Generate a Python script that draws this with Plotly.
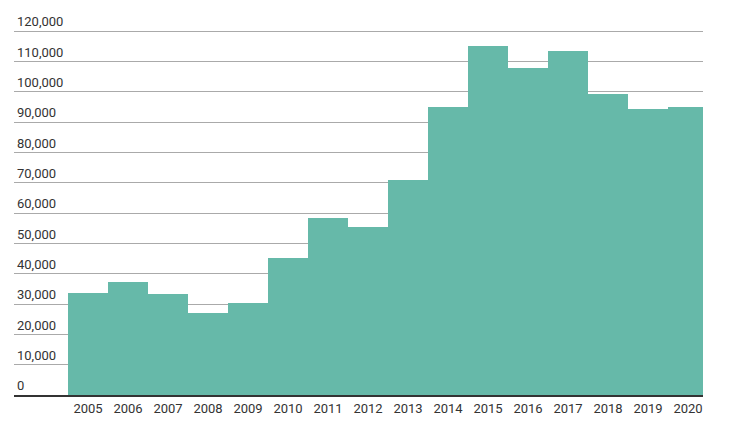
import plotly.graph_objects as go

years = [2005, 2006, 2007, 2008, 2009, 2010, 2011, 2012, 2013, 2014, 2015, 2016, 2017, 2018, 2019, 2020]
values = [33600, 37200, 33300, 27000, 30300, 45200, 58400, 55400, 70900, 95000, 115100, 107800, 113400, 99200, 94300, 95000]
year_labels = [str(y) for y in years]
y_ticks = [0, 10000, 20000, 30000, 40000, 50000, 60000, 70000, 80000, 90000, 100000, 110000, 120000]

fig = go.Figure(go.Bar(
    x=years, y=values,
    marker=dict(color="#66b9a9", line=dict(width=0)),
    hoverinfo="skip",
))

# page body has an 8px margin, so the figure is sized/offset to compensate
fig.update_layout(
    width=742, height=423,
    margin=dict(l=6, r=47, t=2, b=36),
    paper_bgcolor="white", plot_bgcolor="white",
    bargap=0,
    showlegend=False,
    font=dict(family="Roboto", size=13, color="#333333"),
    xaxis=dict(
        range=[2003.15, 2020.375],
        tickvals=years, ticktext=year_labels,
        showgrid=False, zeroline=False,
        showline=True, linecolor="#333333", linewidth=2,
        ticks="", ticklen=0,
        tickfont=dict(family="Roboto", size=13, color="#333333"),
        fixedrange=True,
    ),
    yaxis=dict(
        range=[0, 126935],
        tickvals=y_ticks,
        tickformat=",d",
        ticklabelposition="inside top",
        showgrid=True, gridcolor="#aaaaaa", gridwidth=1,
        zeroline=False, showline=False,
        ticks="",
        tickfont=dict(family="Roboto", size=13, color="#333333"),
        fixedrange=True,
    ),
)

fig.write_html("out.html")
